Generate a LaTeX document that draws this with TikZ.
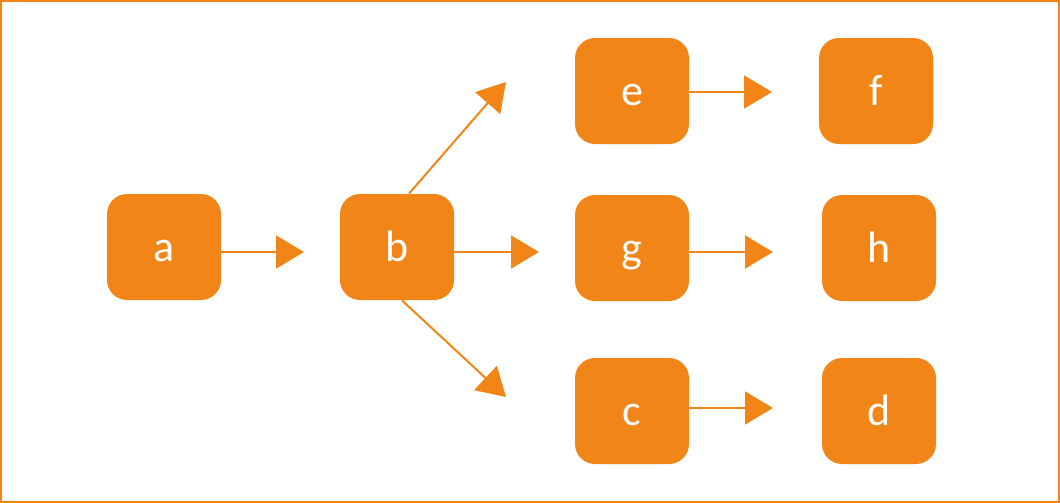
\documentclass[tikz,border=0pt]{standalone}
\usepackage{fontspec}
\setmainfont{Carlito}
\usetikzlibrary{arrows.meta}
\definecolor{boxorange}{HTML}{F18517}

\tikzset{
  box/.style={fill=boxorange, rounded corners=10pt, minimum width=57pt,
    minimum height=53pt, inner sep=0pt, text=white,
    text height=14pt, text depth=0pt, font=\fontsize{22}{26}\selectfont},
  link/.style={draw=boxorange, line width=1pt,
    -{Triangle[length=14pt,width=16.5pt]}}
}

\begin{document}
\begin{tikzpicture}[x=0.5pt,y=-0.5pt]
    \useasboundingbox (0,0) rectangle (1060,503);
    \draw[boxorange, line width=1pt] (1,1) rectangle (1059,502);

    %% the boxes
    \node[box] (a) at (164,247) {a};
    \node[box] (b) at (397,247) {b};
    \node[box] (e) at (632,91) {e};
    \node[box] (f) at (876,91) {f};
    \node[box] (g) at (632,248) {g};
    \node[box] (h) at (879,248) {h};
    \node[box] (c) at (632,411) {c};
    \node[box] (d) at (879,411) {d};

    %% where the arrows stop
    \coordinate (ab) at (304,252);
    \coordinate (bg) at (539,252);
    \coordinate (bup) at (506,82);
    \coordinate (bdown) at (506,397);
    \coordinate (ef) at (772,92);
    \coordinate (gh) at (773,252);
    \coordinate (cd) at (773,408);

    %% arrows
    \draw[link] (a.east |- ab) -- (ab);
    \draw[link] (b.east |- bg) -- (bg);
    \draw[link] ([xshift=6pt]b.north) -- (bup);
    \draw[link] ([xshift=2.5pt]b.south) -- (bdown);
    \foreach \src/\stop in {e/ef, g/gh, c/cd}{
      \draw[link] (\src.east |- \stop) -- (\stop);}

\end{tikzpicture}
\end{document}
